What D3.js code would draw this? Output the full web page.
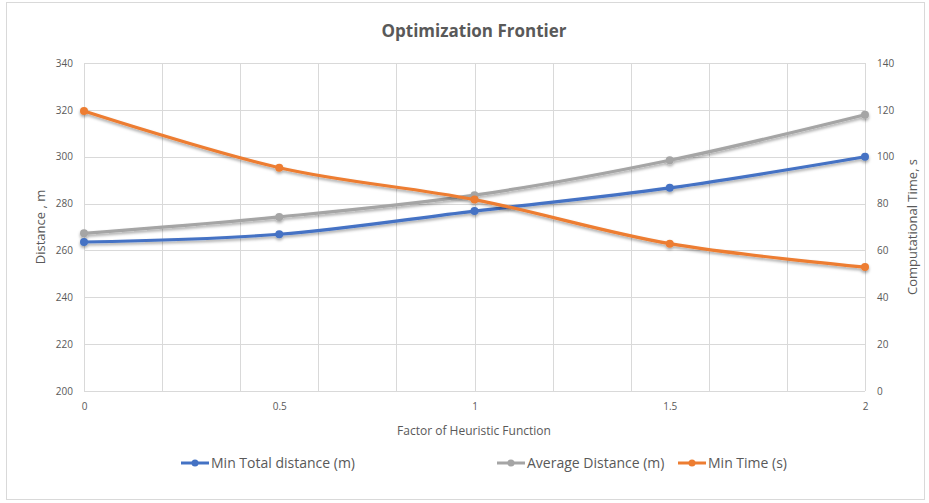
<!DOCTYPE html>
<html><head><meta charset="utf-8">
<script src="https://cdn.jsdelivr.net/npm/d3@7"></script>
<style>body{margin:0;background:#fff}text{font-family:"Open Sans",sans-serif}</style>
</head><body><svg id="c" width="929" height="503"></svg>
<script>
const xValues = [0, 0.5, 1, 1.5, 2];
const minTotalDistance = [263.6, 266.9, 276.8, 286.7, 300.0];
const avgDistance = [267.3, 274.3, 283.6, 298.5, 317.9];
const minTime = [119.5, 95.3, 81.7, 62.9, 52.9];
const leftTicks = [200, 220, 240, 260, 280, 300, 320, 340];
const rightTicks = [0, 20, 40, 60, 80, 100, 120, 140];
const xGrid = [0, 0.2, 0.4, 0.6, 0.8, 1, 1.2, 1.4, 1.6, 1.8, 2];
const xTickLabels = [0, 0.5, 1, 1.5, 2];
const seriesNames = ["Min Total distance (m)", "Average Distance (m)", "Min Time (s)"];
const colors = ["#4472C4", "#A5A5A5", "#ED7D31"];

const svg = d3.select("#c");
const L = 84, R = 865, T = 63, B = 391;
const x = d3.scaleLinear().domain([0, 2]).range([L, R]);
const yL = d3.scaleLinear().domain([200, 340]).range([B, T]);
const yR = d3.scaleLinear().domain([0, 140]).range([B, T]);

svg.append("rect").attr("x", 6.5).attr("y", 2.5).attr("width", 918).attr("height", 497)
  .attr("fill", "#fff").attr("stroke", "#d9d9d9");

const defs = svg.append("defs");
const f = defs.append("filter").attr("id", "sh").attr("x", "-10%").attr("y", "-10%").attr("width", "120%").attr("height", "130%");
f.append("feDropShadow").attr("dx", 0).attr("dy", 2).attr("stdDeviation", 1.5).attr("flood-color", "#000").attr("flood-opacity", 0.35);

// gridlines
svg.append("g").selectAll("line").data(leftTicks).join("line")
  .attr("x1", L).attr("x2", R).attr("y1", d => Math.round(yL(d)) + 0.5).attr("y2", d => Math.round(yL(d)) + 0.5)
  .attr("stroke", "#d9d9d9").attr("stroke-width", 1);
svg.append("g").selectAll("line").data(xGrid).join("line")
  .attr("y1", T).attr("y2", B).attr("x1", d => Math.round(x(d)) + 0.5).attr("x2", d => Math.round(x(d)) + 0.5)
  .attr("stroke", "#d9d9d9").attr("stroke-width", 1);

// axes (labels only)
const gl = svg.append("g").attr("transform", `translate(${L - 11},0)`)
  .call(d3.axisLeft(yL).tickValues(leftTicks).tickSize(0).tickPadding(0));
const gr = svg.append("g").attr("transform", `translate(${R + 12},0)`)
  .call(d3.axisRight(yR).tickValues(rightTicks).tickSize(0).tickPadding(0));
const gx = svg.append("g").attr("transform", `translate(0,${B + 12})`)
  .call(d3.axisBottom(x).tickValues(xTickLabels).tickFormat(d3.format("")).tickSize(0).tickPadding(0));
[gl, gr, gx].forEach(g => {
  g.select(".domain").remove();
  g.selectAll("text").attr("fill", "#595959").style("font-size", "10px").style("font-family", "'Open Sans',sans-serif");
});
gx.selectAll("text").attr("dy", "0.71em");

// lines
const series = [
  {vals: minTotalDistance, y: yL},
  {vals: avgDistance, y: yL},
  {vals: minTime, y: yR}
];
const order = [1, 0, 2];
order.forEach(i => {
  const s = series[i];
  const pts = xValues.map((v, k) => [x(v), s.y(s.vals[k])]);
  const g = svg.append("g").attr("filter", "url(#sh)");
  g.append("path").attr("d", d3.line().curve(d3.curveCatmullRom.alpha(0))(pts))
    .attr("fill", "none").attr("stroke", colors[i]).attr("stroke-width", 3.2).attr("stroke-linecap", "round");
  g.selectAll("circle").data(pts).join("circle")
    .attr("cx", d => d[0]).attr("cy", d => d[1]).attr("r", 4).attr("fill", colors[i]);
});

// title
svg.append("text").attr("x", 474).attr("y", 37).attr("text-anchor", "middle")
  .attr("fill", "#595959").style("font-size", "17px").style("font-weight", "bold").text("Optimization Frontier");
// axis titles
svg.append("text").attr("transform", `translate(45,${(T + B) / 2}) rotate(-90)`).attr("text-anchor", "middle")
  .attr("fill", "#595959").style("font-size", "13px").text("Distance , m");
svg.append("text").attr("transform", `translate(917,${(T + B) / 2}) rotate(-90)`).attr("text-anchor", "middle")
  .attr("fill", "#595959").style("font-size", "13px").text("Computational Time, s");
svg.append("text").attr("x", 474).attr("y", 435).attr("text-anchor", "middle")
  .attr("fill", "#595959").style("font-size", "12px").text("Factor of Heuristic Function");

// legend
const legX = [181, 497, 678];
const lg = svg.append("g");
seriesNames.forEach((n, i) => {
  const g = lg.append("g").attr("transform", `translate(${legX[i]},463)`);
  g.append("line").attr("x1", 0).attr("x2", 28).attr("stroke", colors[i]).attr("stroke-width", 3);
  g.append("circle").attr("cx", 14).attr("r", 3.5).attr("fill", colors[i]);
  g.append("text").attr("x", 30).attr("y", 5).attr("fill", "#595959").style("font-size", "14px").text(n);
});
</script></body></html>
